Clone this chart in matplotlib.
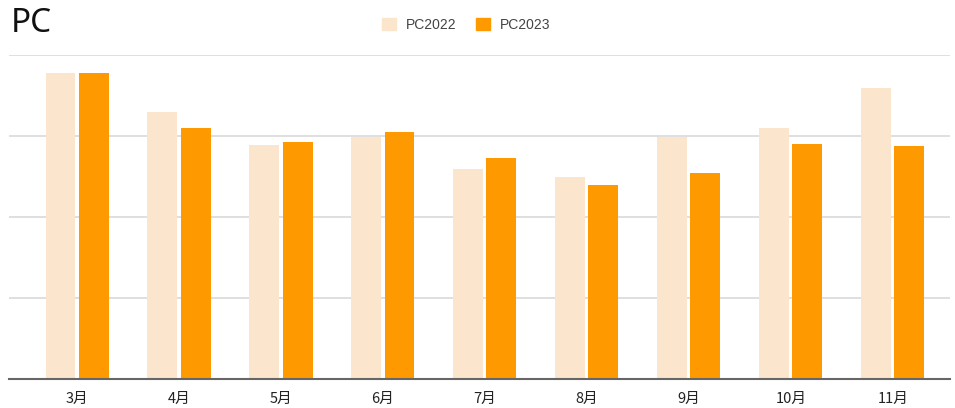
import matplotlib
matplotlib.use("Agg")
import matplotlib.pyplot as plt
from matplotlib.patches import Patch
import numpy as np

plt.rcParams['font.family'] = ['Noto Sans CJK SC', 'DejaVu Sans']

months = ['3月', '4月', '5月', '6月', '7月', '8月', '9月', '10月', '11月']
pc2022 = [94.5, 82.5, 72.2, 74.8, 64.8, 62.3, 74.8, 77.4, 89.7]
pc2023 = [94.3, 77.5, 73.0, 76.3, 68.1, 59.9, 63.5, 72.4, 72.0]

c_light = '#fce5cd'
c_dark = '#ff9900'

fig = plt.figure(figsize=(9.55, 4.08), dpi=100)
ax = fig.add_axes([9 / 955, 29 / 408, 941 / 955, 324 / 408])

x = np.arange(len(months))
w = 0.294
off = 0.162
ax.bar(x - off, pc2022, width=w, color=c_light, zorder=2)
ax.bar(x + off, pc2023, width=w, color=c_dark, zorder=2)

ax.set_xlim(-0.667, 8.56)
ax.set_ylim(0, 100)
ax.set_yticks([25, 50, 75, 100])
ax.yaxis.grid(True, color='#d9d9d9', linewidth=1.2, zorder=0)
ax.tick_params(axis='y', left=False, labelleft=False)
for s in ['top', 'right', 'left']:
    ax.spines[s].set_visible(False)
ax.spines['bottom'].set_color('#666666')
ax.spines['bottom'].set_linewidth(1.5)
ax.spines['bottom'].set_zorder(3)

ax.set_xticks(x)
ax.set_xticklabels(months, fontsize=10.5, color='#222222', fontweight='medium')
ax.tick_params(axis='x', length=0, pad=9)

fig.text(11 / 955, 1 - 23 / 408, 'PC', fontsize=24, color='#111111',
         family=['Noto Sans', 'DejaVu Sans'], va='center', ha='left')

handles = [Patch(color=c_light, label='PC2022'), Patch(color=c_dark, label='PC2023')]
fig.legend(handles=handles, loc='center', bbox_to_anchor=(466 / 955, 1 - 25 / 408),
           ncol=2, frameon=False, handlelength=1.0, handleheight=1.0,
           handletextpad=0.7, columnspacing=1.4,
           prop={'family': 'Liberation Sans', 'size': 10}, labelcolor='#444444')

fig.savefig('out.png', dpi=100)
